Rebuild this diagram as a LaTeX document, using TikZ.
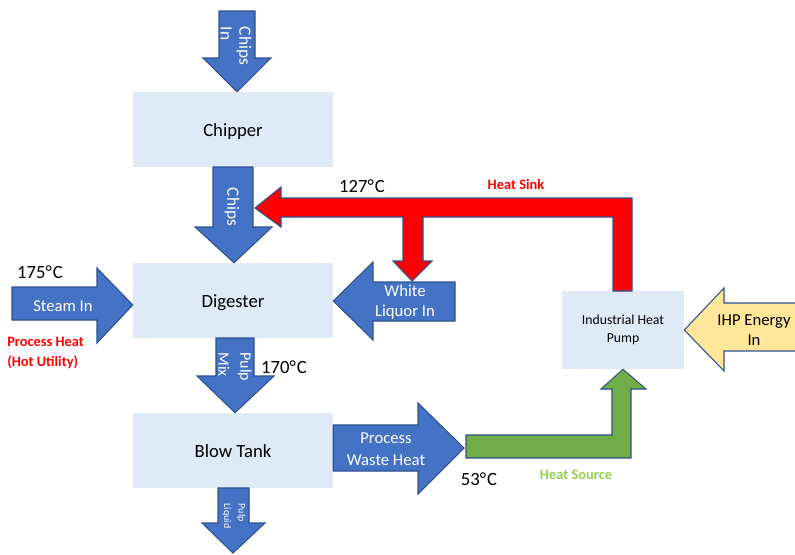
\documentclass[tikz,border=0pt]{standalone}
\usepackage{fontspec}
\setmainfont{Carlito}
\usetikzlibrary{positioning}
\definecolor{boxblue}{HTML}{DEEBF7}
\definecolor{arrowblue}{HTML}{4472C4}
\definecolor{edgeblue}{HTML}{2F528F}
\definecolor{sinkred}{HTML}{FF0000}
\definecolor{srcgreen}{HTML}{70AD47}
\definecolor{srctext}{HTML}{92D050}
\definecolor{ihpyellow}{HTML}{FFE699}
\begin{document}
\begin{tikzpicture}[x=0.75pt, y=-0.75pt,
  box/.style={rectangle, fill=boxblue, minimum width=150pt, minimum height=56.25pt, align=center, font=\fontsize{14}{17}\selectfont},
  blk/.style={draw=edgeblue, line width=0.8pt, fill=arrowblue},
  lbl/.style={inner sep=0pt, align=center, text=white, font=\fontsize{12.5}{15}\selectfont},
  temp/.style={inner sep=0pt, font=\fontsize{14}{17}\selectfont},
  note/.style={inner sep=0pt, align=left, font=\bfseries\fontsize{10.8}{15}\selectfont}
]
  \useasboundingbox (0,0) rectangle (795,554);

  % process boxes
  \node[box, text height=11pt, text depth=0pt] (chipper) at (233,129.5) {Chipper};
  \node[box, text height=11pt, text depth=0pt] (digester) at (233,300.5) {Digester};
  \node[box, text height=11pt, text depth=0pt] (blowtank) at (233,450.5) {Blow Tank};
  \node[box, minimum width=91.5pt, minimum height=58.5pt, font=\fontsize{10.3}{13.5}\selectfont] (ihp) at (623,330) {Industrial Heat\\Pump};

  % blue block arrows
  \draw[blk] (219,11) -- (255,11) -- (255,58) -- (271,58) -- (chipper.north -| 237,0) -- (203,58) -- (219,58) -- cycle;
  \draw[blk] (213,167) -- (253,167) -- (253,227) -- (272,227) -- (digester.north -| 234,0) -- (195,227) -- (213,227) -- cycle;
  \draw[blk] (216,338) -- (254,338) -- (254,376) -- (274,376) -- (blowtank.north -| 235,0) -- (197,376) -- (216,376) -- cycle;
  \draw[blk] (218,488) -- (249,488) -- (249,523) -- (265,523) -- (233,553) -- (202,523) -- (218,523) -- cycle;
  \draw[blk] (12,287) -- (97,287) -- (97,268) -- (digester.west |- 0,305) -- (97,343) -- (97,320) -- (12,320) -- cycle;
  \draw[blk] (455,282) -- (373,282) -- (373,262) -- (digester.east |- 0,301) -- (373,340) -- (373,321) -- (455,321) -- cycle;
  \draw[blk] (blowtank.east |- 0,425) -- (418,425) -- (418,403) -- (464,448) -- (418,494) -- (418,471) -- (blowtank.east |- 0,471) -- cycle;
  \draw[blk, fill=ihpyellow] (800,303) -- (724,303) -- (724,288) -- (ihp.east) -- (724,371) -- (724,351) -- (800,351) -- cycle;

  % heat sink and heat source
  \draw[blk, fill=sinkred] (613,291) -- (613,217) -- (423,217) -- (423,261) -- (432,261) -- (412,281) -- (393,261) -- (403,261) -- (403,217) -- (281,217) -- (281,227) -- (255,208) -- (281,187) -- (281,198) -- (632,198) -- (632,291) -- cycle;
  \draw[blk, fill=srcgreen] (466,435) -- (612,435) -- (612,389) -- (601,389) -- (ihp.south) -- (646,389) -- (631,389) -- (631,458) -- (466,458) -- cycle;

  % arrow labels
  \node[lbl, rotate=-90, align=left, font=\fontsize{13}{14}\selectfont] (chipsin) at (236,46) {Chips\\In};
  \node[lbl, rotate=-90, font=\fontsize{13}{14}\selectfont] (chips) at (232,207) {Chips};
  \node[lbl, rotate=-90, align=left, font=\fontsize{12}{16.5}\selectfont] (pulpmix) at (235,367) {Pulp\\Mix};
  \node[lbl, rotate=-90, align=left, font=\fontsize{7.5}{11}\selectfont] (pulpliq) at (234,516) {Pulp\\Liquid};
  \node[lbl] (steam) at (63,306) {Steam In};
  \node[lbl] (white) at (405,302) {White\\Liquor In};
  \node[lbl, font=\fontsize{12.5}{16.5}\selectfont] (waste) at (386,449) {Process\\Waste Heat};
  \node[lbl, text=black] (ihpin) at (754,330) {IHP Energy\\In};

  % temperatures and notes
  \node[temp] (t175) at (40,272) {175°\kern0.8pt C};
  \node[temp] (t127) at (362,186) {127°\kern0.8pt C};
  \node[temp] (t170) at (284,367) {170°\kern0.8pt C};
  \node[temp] (t53) at (479,479) {53°\kern0.8pt C};
  \node[note, text=sinkred, anchor=west] (hotutil) at (7,353) {Process Heat\\(Hot Utility)};
  \node[note, text=sinkred] (sink) at (516,184) {Heat Sink};
  \node[note, text=srctext] (source) at (576,475) {Heat Source};
\end{tikzpicture}
\end{document}
